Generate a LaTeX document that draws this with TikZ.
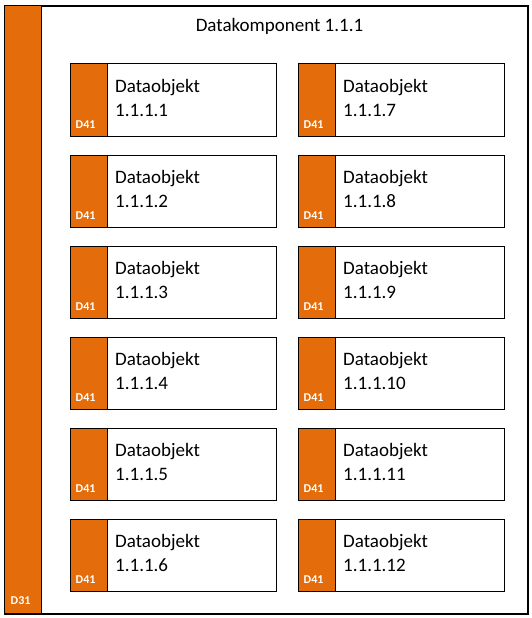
\documentclass[tikz,border=0pt]{standalone}
\usepackage{fontspec}
\setmainfont{Carlito}
\definecolor{dorange}{HTML}{E46C0A}
\tikzset{
  frame/.style={draw=black, line width=1pt, fill=white},
  bar/.style={fill=dorange, draw=none, inner sep=0pt},
  objbox/.style={draw=black, line width=1pt, minimum width=206pt, minimum height=72pt, inner sep=0pt, anchor=north west},
  tagbox/.style={fill=dorange, draw=none, minimum width=38pt, minimum height=72pt, inner sep=0pt, anchor=north west},
  objtext/.style={font=\fontsize{19}{23.5}\selectfont, text width=150pt, align=left, inner sep=0pt, anchor=base west},
  small/.style={font=\fontsize{12}{14}\selectfont\bfseries, text=white, inner sep=0pt, anchor=base west},
  title/.style={font=\fontsize{19}{23}\selectfont, inner sep=0pt, anchor=base}
}
\begin{document}
\begin{tikzpicture}[x=1pt,y=-1pt]
\useasboundingbox (0,0) rectangle (532,618);
\node[frame, minimum width=523pt, minimum height=607pt, inner sep=0pt, anchor=north west] (outer) at (4,6) {};
\node[bar, minimum width=37pt, minimum height=607pt, anchor=north west] (d31bar) at (4,6) {};
\draw[line width=1pt] (outer.north west) rectangle (outer.south east);
\draw[line width=1pt] (d31bar.north east) -- (d31bar.south east);
\node[small] (d31) at (10.5,604.5) {D31};
\node[title] (title) at (279.5,32) {Datakomponent 1.1.1};
\foreach \i in {1,...,6}{
  \pgfmathsetmacro{\yy}{63.5+91*(\i-1)}
  \pgfmathtruncatemacro{\j}{\i+6}
  \node[tagbox] (t\i) at (69.5,\yy) {};
  \node[objbox] (b\i) at (69.5,\yy) {};
  \draw[line width=1pt] (t\i.north east) -- (t\i.south east);
  \path (b\i.north west) ++(45.5,29) node[objtext] (x\i) {Dataobjekt\\1.1.1.\i};
  \path (b\i.north west) ++(6,65) node[small] (l\i) {D41};
  \node[tagbox] (t\j) at (297.5,\yy) {};
  \node[objbox] (b\j) at (297.5,\yy) {};
  \draw[line width=1pt] (t\j.north east) -- (t\j.south east);
  \path (b\j.north west) ++(45.5,29) node[objtext] (x\j) {Dataobjekt\\1.1.1.\j};
  \path (b\j.north west) ++(6,65) node[small] (l\j) {D41};
}
\end{tikzpicture}
\end{document}
